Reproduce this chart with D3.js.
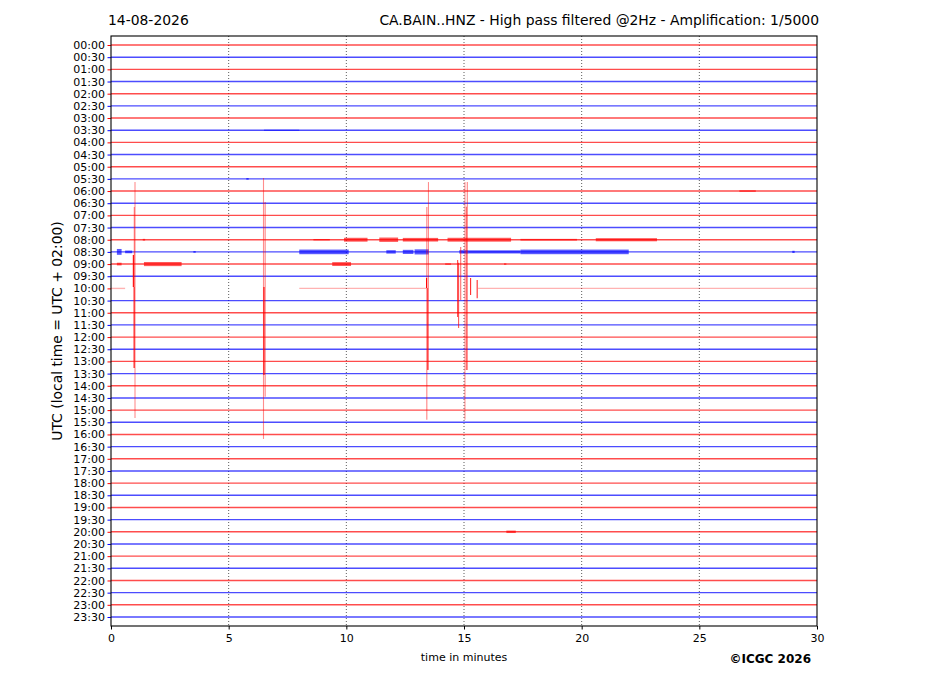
<!DOCTYPE html>
<html>
<head>
<meta charset="utf-8">
<script src="https://cdn.jsdelivr.net/npm/d3@7"></script>
<style>
  body { margin: 0; background: #fff; }
  text { font-family: "DejaVu Sans", sans-serif; }
</style>
</head>
<body>
<svg id="heli" width="927" height="696"></svg>
<script>
// hour rows, one every 30 minutes
const rowLabels = [
  "00:00","00:30","01:00","01:30","02:00","02:30","03:00","03:30",
  "04:00","04:30","05:00","05:30","06:00","06:30","07:00","07:30",
  "08:00","08:30","09:00","09:30","10:00","10:30","11:00","11:30",
  "12:00","12:30","13:00","13:30","14:00","14:30","15:00","15:30",
  "16:00","16:30","17:00","17:30","18:00","18:30","19:00","19:30",
  "20:00","20:30","21:00","21:30","22:00","22:30","23:00","23:30"
];
const rowColors = ["red", "blue"];
const minuteTicks = [0, 5, 10, 15, 20, 25, 30];

// the 10:00 row has gaps: [start min, end min]
const gapRow = 20;
const gapRowSegments = [[0, 0.6], [8.0, 13.4], [15.6, 30]];

// bursts of signal: [row, start min, end min, half amplitude in rows]
const bursts = [
  [7, 6.5, 8.0, 0.04],
  [11, 5.75, 5.85, 0.07],
  [12, 26.7, 27.4, 0.06],
  [16, 1.35, 1.45, 0.07],
  [16, 8.6, 9.3, 0.06],
  [16, 9.9, 10.9, 0.16],
  [16, 11.4, 12.2, 0.18],
  [16, 12.4, 13.9, 0.15],
  [16, 14.3, 17.0, 0.16],
  [16, 17.4, 19.8, 0.07],
  [16, 20.6, 23.2, 0.13],
  [17, 0.25, 0.45, 0.24],
  [17, 0.6, 0.9, 0.11],
  [17, 3.5, 3.6, 0.07],
  [17, 8.0, 10.1, 0.19],
  [17, 11.7, 12.1, 0.14],
  [17, 12.4, 12.85, 0.17],
  [17, 12.9, 13.5, 0.21],
  [17, 14.8, 15.2, 0.14],
  [17, 15.2, 17.4, 0.13],
  [17, 17.4, 22.0, 0.19],
  [17, 28.95, 29.05, 0.09],
  [18, 0.25, 0.45, 0.11],
  [18, 1.4, 3.0, 0.17],
  [18, 9.4, 10.2, 0.16],
  [18, 14.2, 14.45, 0.06],
  [18, 16.7, 16.8, 0.06],
  [40, 16.8, 17.2, 0.1]
];

// vertical excursions of the big events: [minute, top row, bottom row, level]
const spikes = [
  [1.02, 11.26, 30.65, 0.35],
  [0.99, 13.31, 26.54, 0.4],
  [0.95, 17.26, 19.88, 1],
  [0.98, 19.88, 26.54, 0.6],
  [6.48, 10.93, 32.37, 0.35],
  [6.55, 12.9, 28.9, 0.4],
  [6.5, 19.88, 27.12, 1],
  [13.49, 11.26, 26.7, 0.35],
  [13.42, 13.31, 30.8, 0.4],
  [13.41, 19.15, 19.97, 1],
  [13.45, 19.97, 26.7, 0.6],
  [14.73, 17.67, 22.35, 0.7],
  [14.77, 17.9, 23.25, 0.6],
  [14.86, 16.6, 20.95, 0.5],
  [15.04, 11.26, 30.8, 0.35],
  [15.1, 13.3, 26.7, 0.5],
  [15.14, 11.26, 26.7, 0.4],
  [15.28, 19.15, 20.54, 0.8],
  [15.56, 19.3, 20.8, 0.8]
];

const svg = d3.select("#heli");
const plotLeft = 111, plotTop = 36, plotW = 706, plotH = 590;

const x = d3.scaleLinear().domain([0, 30]).range([plotLeft, plotLeft + plotW]);
const y = d3.scaleLinear().domain([-0.74, 47.74]).range([plotTop, plotTop + plotH]);
const level = d3.scaleLinear().domain([0, 1]).range([0.15, 1]);
const colorOf = i => rowColors[i % 2];

// dotted minute grid
svg.append("g").selectAll("line")
  .data(minuteTicks.slice(1, -1))
  .enter().append("line")
  .attr("x1", d => x(d)).attr("x2", d => x(d))
  .attr("y1", plotTop).attr("y2", plotTop + plotH)
  .attr("stroke", "#333").attr("stroke-width", 0.8)
  .attr("stroke-dasharray", "1,2");

// base traces
const traces = svg.append("g");
rowLabels.forEach((lab, i) => {
  const segs = i === gapRow ? gapRowSegments : [[0, 30]];
  segs.forEach(s => {
    traces.append("line")
      .attr("x1", x(s[0])).attr("x2", x(s[1]))
      .attr("y1", y(i)).attr("y2", y(i))
      .attr("stroke", colorOf(i))
      .attr("stroke-width", 1.4)
      .attr("stroke-opacity", i === gapRow ? 0.3 : 0.7);
  });
});

// bursts
svg.append("g").selectAll("rect")
  .data(bursts)
  .enter().append("rect")
  .attr("x", d => x(d[1]))
  .attr("width", d => Math.max(1.5, x(d[2]) - x(d[1])))
  .attr("y", d => y(d[0] - d[3]))
  .attr("height", d => y(d[0] + d[3]) - y(d[0] - d[3]))
  .attr("fill", d => colorOf(d[0]))
  .attr("fill-opacity", 0.65);

// event spikes
svg.append("g").selectAll("line")
  .data(spikes)
  .enter().append("line")
  .attr("x1", d => x(d[0])).attr("x2", d => x(d[0]))
  .attr("y1", d => y(d[1])).attr("y2", d => y(d[2]))
  .attr("stroke", "red")
  .attr("stroke-width", 1.1)
  .attr("stroke-opacity", d => level(d[3]));

// axes
const yAxis = d3.axisLeft(y)
  .tickValues(d3.range(rowLabels.length))
  .tickFormat(i => rowLabels[i])
  .tickSize(3.5).tickPadding(2.5);
const gy = svg.append("g").attr("transform", `translate(${plotLeft},0)`).call(yAxis);
gy.select(".domain").remove();
gy.selectAll(".tick line").attr("stroke", i => colorOf(i));
gy.selectAll(".tick text").attr("font-size", 11).attr("fill", "#000")
  .attr("font-family", "DejaVu Sans");

const xAxis = d3.axisBottom(x).tickValues(minuteTicks).tickSize(3.5).tickPadding(4.5);
const gx = svg.append("g").attr("transform", `translate(0,${plotTop + plotH})`).call(xAxis);
gx.select(".domain").remove();
gx.selectAll(".tick text").attr("font-size", 11).attr("fill", "#000")
  .attr("font-family", "DejaVu Sans");

// frame
svg.append("rect")
  .attr("x", plotLeft).attr("y", plotTop).attr("width", plotW).attr("height", plotH)
  .attr("fill", "none").attr("stroke", "#000").attr("stroke-width", 1.1);

// texts
svg.append("text").attr("x", 108).attr("y", 25)
  .attr("font-size", 13.9).text("14-08-2026");
svg.append("text").attr("x", 819).attr("y", 25).attr("text-anchor", "end")
  .attr("font-size", 13.9)
  .text("CA.BAIN..HNZ - High pass filtered @2Hz - Amplification: 1/5000");
svg.append("text").attr("x", x(15)).attr("y", 661).attr("text-anchor", "middle")
  .attr("font-size", 11).text("time in minutes");
svg.append("text")
  .attr("transform", "translate(62,331) rotate(-90)")
  .attr("text-anchor", "middle").attr("font-size", 13.9)
  .text("UTC (local time = UTC + 02:00)");
svg.append("text").attr("x", 811).attr("y", 663).attr("text-anchor", "end")
  .attr("font-size", 12).attr("font-weight", "bold")
  .text("©ICGC 2026");
</script>
</body>
</html>
